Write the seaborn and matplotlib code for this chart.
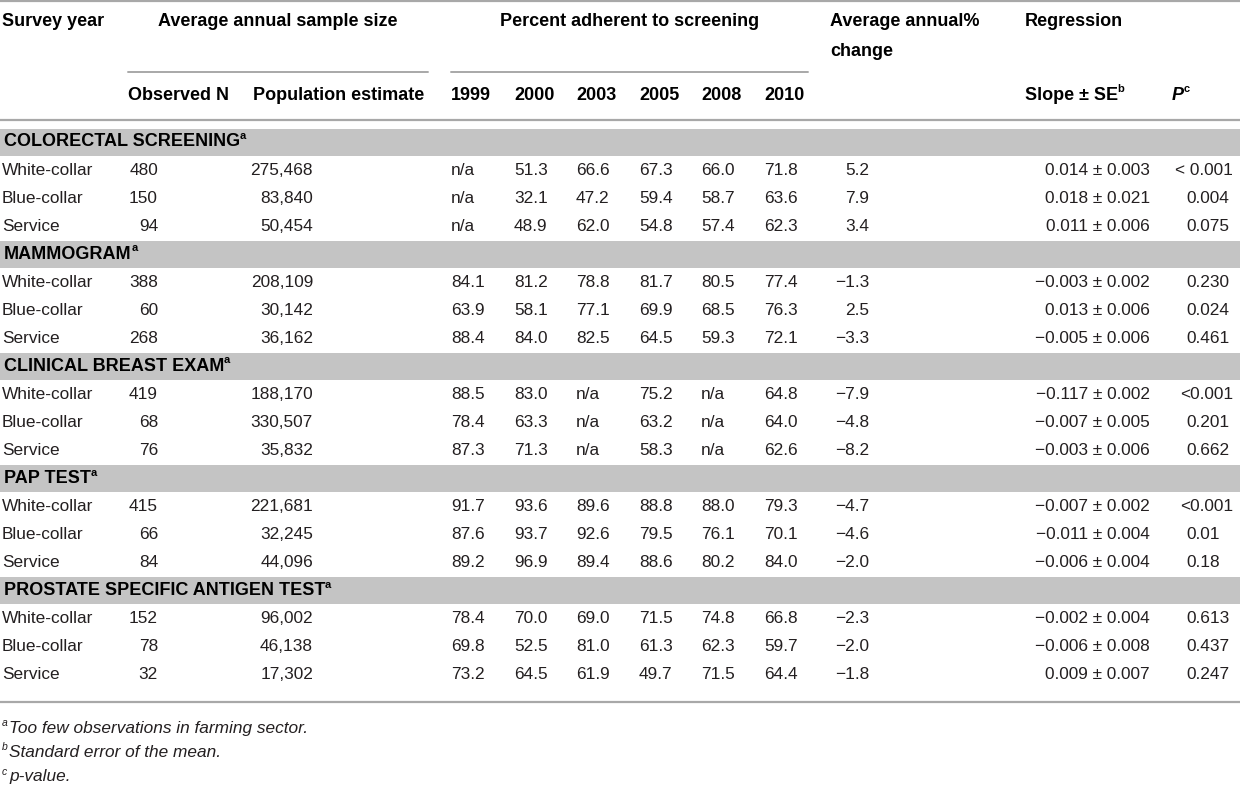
import matplotlib
matplotlib.use("Agg")
import matplotlib.pyplot as plt
from matplotlib import font_manager
import seaborn as sns

# ---- data ----
sections = ["COLORECTAL SCREENING", "MAMMOGRAM", "CLINICAL BREAST EXAM",
            "PAP TEST", "PROSTATE SPECIFIC ANTIGEN TEST"]
groups = ["White-collar", "Blue-collar", "Service"]
years = ["1999", "2000", "2003", "2005", "2008", "2010"]

observed_n = [
    ["480", "150", "94"],
    ["388", "60", "268"],
    ["419", "68", "76"],
    ["415", "66", "84"],
    ["152", "78", "32"],
]
population = [
    ["275,468", "83,840", "50,454"],
    ["208,109", "30,142", "36,162"],
    ["188,170", "330,507", "35,832"],
    ["221,681", "32,245", "44,096"],
    ["96,002", "46,138", "17,302"],
]
adherence = [
    [["n/a", "51.3", "66.6", "67.3", "66.0", "71.8"],
     ["n/a", "32.1", "47.2", "59.4", "58.7", "63.6"],
     ["n/a", "48.9", "62.0", "54.8", "57.4", "62.3"]],
    [["84.1", "81.2", "78.8", "81.7", "80.5", "77.4"],
     ["63.9", "58.1", "77.1", "69.9", "68.5", "76.3"],
     ["88.4", "84.0", "82.5", "64.5", "59.3", "72.1"]],
    [["88.5", "83.0", "n/a", "75.2", "n/a", "64.8"],
     ["78.4", "63.3", "n/a", "63.2", "n/a", "64.0"],
     ["87.3", "71.3", "n/a", "58.3", "n/a", "62.6"]],
    [["91.7", "93.6", "89.6", "88.8", "88.0", "79.3"],
     ["87.6", "93.7", "92.6", "79.5", "76.1", "70.1"],
     ["89.2", "96.9", "89.4", "88.6", "80.2", "84.0"]],
    [["78.4", "70.0", "69.0", "71.5", "74.8", "66.8"],
     ["69.8", "52.5", "81.0", "61.3", "62.3", "59.7"],
     ["73.2", "64.5", "61.9", "49.7", "71.5", "64.4"]],
]
annual_change = [
    ["5.2", "7.9", "3.4"],
    ["\u22121.3", "2.5", "\u22123.3"],
    ["\u22127.9", "\u22124.8", "\u22128.2"],
    ["\u22124.7", "\u22124.6", "\u22122.0"],
    ["\u22122.3", "\u22122.0", "\u22121.8"],
]
slope_se = [
    ["0.014 \u00b1 0.003", "0.018 \u00b1 0.021", "0.011 \u00b1 0.006"],
    ["\u22120.003 \u00b1 0.002", "0.013 \u00b1 0.006", "\u22120.005 \u00b1 0.006"],
    ["\u22120.117 \u00b1 0.002", "\u22120.007 \u00b1 0.005", "\u22120.003 \u00b1 0.006"],
    ["\u22120.007 \u00b1 0.002", "\u22120.011 \u00b1 0.004", "\u22120.006 \u00b1 0.004"],
    ["\u22120.002 \u00b1 0.004", "\u22120.006 \u00b1 0.008", "0.009 \u00b1 0.007"],
]
p_values = [
    ["< 0.001", "0.004", "0.075"],
    ["0.230", "0.024", "0.461"],
    ["<0.001", "0.201", "0.662"],
    ["<0.001", "0.01", "0.18"],
    ["0.613", "0.437", "0.247"],
]
footnotes = [("a", "Too few observations in farming sector."),
             ("b", "Standard error of the mean."),
             ("c", "p-value.")]

# ---- style ----
sns.set_theme(style="white")
installed = {f.name for f in font_manager.fontManager.ttflist}
if "Liberation Sans Narrow" in installed:
    FAMILY = ["Liberation Sans Narrow", "DejaVu Sans"]
    FS = 13.8
    HS = 14.6
else:
    FAMILY = ["Liberation Sans", "DejaVu Sans"]
    FS = 12.4
    HS = 13.0
plt.rcParams["font.family"] = FAMILY

BODY = "#231f20"
BAND = "#c4c4c4"
RULE = "#a8a8a8"

fig = plt.figure(figsize=(12.4, 7.9), dpi=100)
ax = fig.add_axes([0, 0, 1, 1])
ax.set_xlim(0, 1240)
ax.set_ylim(790, 0)
ax.axis("off")
renderer = fig.canvas.get_renderer()


def put(x, y, s, ha="left", bold=False, italic=False, sup=None, size=None, color=None):
    if size is None:
        size = HS if bold else FS
    t = ax.text(x, y, s, ha=ha, va="center", fontsize=size,
                fontweight="bold" if bold else "normal",
                fontstyle="italic" if italic else "normal",
                color=color or ("black" if bold else BODY))
    if sup:
        bb = t.get_window_extent(renderer).transformed(ax.transData.inverted())
        ax.text(bb.x1 - 0.5, y - 6, sup, ha="left", va="center", fontsize=size * 0.62,
                fontweight="bold" if bold else "normal", color=t.get_color())
    return t


# rules
ax.plot([0, 1240], [1, 1], color=RULE, lw=1.6, solid_capstyle="butt")
ax.plot([128, 428], [72, 72], color=RULE, lw=1.4)
ax.plot([451, 808], [72, 72], color=RULE, lw=1.4)
ax.plot([0, 1240], [120, 120], color=RULE, lw=1.6)
ax.plot([0, 1240], [702, 702], color=RULE, lw=1.6)

# header
put(2, 22, "Survey year", bold=True)
put(278, 22, "Average annual sample size", ha="center", bold=True)
put(629.5, 22, "Percent adherent to screening", ha="center", bold=True)
put(830, 22, "Average annual%", bold=True)
put(830, 51, "change", bold=True)
put(1025, 22, "Regression", bold=True)

put(128, 95, "Observed N", bold=True)
put(253, 95, "Population estimate", bold=True)
year_x = [451, 514, 576, 639, 701, 764]
for yx, yr in zip(year_x, years):
    put(yx, 95, yr, bold=True)
put(1025, 95, "Slope \u00b1 SE", bold=True, sup="b")
put(1172, 95, "P", bold=True, italic=True, sup="c")

# body
pitch = 28.05
k = 0
for si, sec in enumerate(sections):
    yc = 142 + pitch * k
    ax.add_patch(plt.Rectangle((0, yc - 13.5), 1240, 27, color=BAND, lw=0))
    put(4, yc, sec, bold=True, sup="a")
    k += 1
    for gi, grp in enumerate(groups):
        yc = 142 + pitch * k
        put(2, yc, grp)
        put(158, yc, observed_n[si][gi], ha="right")
        put(313, yc, population[si][gi], ha="right")
        for yx, val in zip(year_x, adherence[si][gi]):
            put(yx, yc, val)
        put(869, yc, annual_change[si][gi], ha="right")
        put(1150, yc, slope_se[si][gi], ha="right")
        pv = p_values[si][gi]
        if pv.startswith("<"):
            put(1233, yc, pv, ha="right")
        else:
            put(1186, yc, pv)
        k += 1

# footnotes
for i, (mark, note) in enumerate(footnotes):
    yc = 728 + 24.5 * i
    ax.text(2, yc - 5, mark, ha="left", va="center", fontsize=FS * 0.6,
            fontstyle="italic", color=BODY)
    put(9, yc, note, italic=True, size=FS)

fig.savefig("out.png", dpi=100)
